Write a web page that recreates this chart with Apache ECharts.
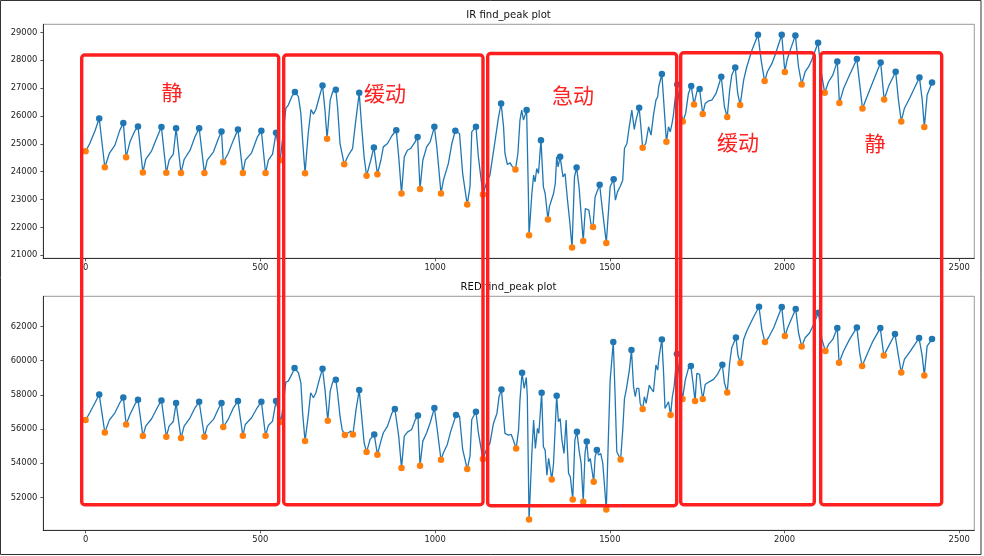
<!DOCTYPE html>
<html>
<head>
<meta charset="utf-8">
<script src="https://cdn.jsdelivr.net/npm/echarts@6/dist/echarts.min.js"></script>
<style>
  html, body { margin: 0; padding: 0; background: #fff; }
  #main { width: 984px; height: 556px; }
</style>
</head>
<body>
<div id="main"></div>
<script>
// tick labels
var xTicks = [0, 500, 1000, 1500, 2000, 2500];
var irTicks = [21000, 22000, 23000, 24000, 25000, 26000, 27000, 28000, 29000];
var redTicks = [52000, 54000, 56000, 58000, 60000, 62000];

// IR 通道：峰值 / 谷值 / 其余采样点 [样本序号, 数值]
var irPeaks = [[39,25910],[108,25750],[150,25620],[217,25600],[259,25560],[325,25560],[389,25440],[436,25510],[503,25470],[545,25400],
  [599,26856],[678,27096],[716,26940],[783,26830],[825,24870],[889,25490],[950,25240],[998,25610],[1058,25470],[1117,25610],
  [1189,26449],[1262,26210],[1303,25132],[1358,24533],[1405,24150],[1471,23527],[1511,23731],[1584,26293],[1649,27503],[1693,27132],
  [1733,27072],[1757,26964],[1819,27407],[1859,27743],[1924,28916],[1992,28916],[2031,28892],[2096,28629],[2151,27958],[2207,28042],
  [2275,27922],[2318,27587],[2386,27383],[2422,27204]];
var irValleys = [[0,24730],[55,24160],[116,24520],[164,23970],[231,23960],[273,23950],[340,23950],[394,24340],[450,23950],[515,23950],[557,24420],
  [628,23946],[691,25180],[740,24270],[804,23850],[835,23910],[904,23220],[957,23380],[1017,23220],[1092,22820],[1137,23180],
  [1230,24078],[1269,21719],[1323,22281],[1392,21275],[1424,21515],[1452,22018],[1490,21443],[1594,24856],[1662,25072],[1709,25802],
  [1741,26413],[1766,26066],[1836,25958],[1873,26389],[1943,27252],[2001,27575],[2049,27132],[2115,26832],[2157,26461],[2223,26269],
  [2285,26593],[2334,25802],[2400,25599]];
var irTrace = [[12,25010],[27,25467],[68,24653],[84,24952],[98,25491],[127,25072],[141,25467],[172,24437],[189,24748],[205,25252],
  [239,24413],[251,24629],[282,24437],[299,24772],[313,25252],[348,24413],[366,24713],[380,25192],[408,24653],[423,25132],
  [457,24413],[475,24677],[491,25228],[523,24413],[535,24629],
  [573,26270],[580,26390],[590,26690],[609,26690],[616,26090],[621,25130],[637,25370],[645,26230],[652,26065],[659,26230],
  [669,26690],[685,26210],[700,26570],[707,26870],[721,26330],[728,25010],[752,24590],[764,24830],[771,25610],[790,25610],
  [797,24530],[816,24410],[845,24410],[852,24890],[864,25010],[876,25280],[896,24530],[912,24530],[921,24770],[930,24830],
  [943,25070],[965,24410],[976,24890],[986,25070],[1005,24890],[1024,23700],[1038,24290],[1048,25010],[1070,25370],[1079,23930],
  [1100,23460],[1105,25430],[1110,25490],[1124,24530],
  [1148,23635],[1157,23874],[1172,25132],[1181,25910],[1196,25611],[1200,24653],[1207,24257],[1215,24317],[1220,24198],[1237,24653],
  [1243,25850],[1248,26210],[1253,25850],[1267,23216],[1277,23216],[1282,23874],[1286,23635],[1291,24114],[1296,23934],[1310,23455],
  [1315,23216],[1327,22737],[1332,22797],[1339,23216],[1344,23575],[1348,24533],[1352,24174],[1366,23814],[1372,23934],[1379,22976],
  [1385,22257],[1399,23814],[1412,23455],[1430,22677],[1434,22737],[1440,22617],[1446,22138],[1458,23096],[1479,22617],[1501,23455],
  [1516,22976],[1522,23275],[1530,23479],[1537,23695],[1542,24832],[1549,25012],[1555,25551],[1563,26210],[1570,25515],[1575,25850],
  [1589,25611],[1603,25012],[1611,25611],[1618,25311],[1625,26030],[1632,26569],[1637,26689],[1640,27048],[1656,26210],[1668,25611],
  [1673,25431],[1679,25790],[1682,26030],[1687,26629],[1700,26329],[1717,26090],[1725,26808],[1749,26868],[1762,26449],[1773,26449],
  [1783,26545],[1792,26569],[1804,26808],[1828,26329],[1843,26928],[1849,27467],[1866,26808],[1883,27287],[1892,27767],[1907,28365],
  [1933,28006],[1951,27587],[1964,27886],[1973,28186],[2007,28006],[2018,28425],[2040,27766],[2059,27587],[2069,27767],[2078,28006],
  [2104,27647],[2126,27228],[2138,27467],[2169,26988],[2186,27467],[2217,26928],[2236,26689],[2253,27228],[2298,27072],[2326,26569],
  [2343,26269],[2360,26689],[2394,26569],[2408,26749]];

// RED 通道
var redPeaks = [[39,58023],[108,57848],[150,57711],[217,57672],[259,57517],[325,57595],[389,57517],[436,57634],[503,57595],[545,57634],
  [598,59563],[678,59524],[716,58881],[783,58277],[826,55684],[885,57166],[951,56795],[998,57224],[1060,56815],[1117,57010],
  [1190,58316],[1249,59290],[1305,58121],[1348,57945],[1406,55840],[1434,55275],[1463,54768],[1510,61084],[1562,60616],[1649,61240],
  [1692,60382],[1732,59680],[1822,59758],[1861,61357],[1927,63150],[1992,63131],[2032,63014],[2097,62799],[2151,61903],[2207,61942],
  [2274,61903],[2316,61552],[2385,61318],[2422,61260]];
var redValleys = [[0,56522],[55,55801],[116,56269],[164,55587],[231,55548],[273,55470],[340,55548],[394,56113],[450,55606],[515,55606],[559,56405],
  [628,55294],[693,56483],[742,55645],[765,55684],[804,54651],[835,54495],[904,53715],[957,53852],[1017,54203],[1092,53657],[1137,54242],
  [1232,54866],[1269,50713],[1334,53053],[1394,51883],[1424,51747],[1454,52916],[1490,51298],[1531,54222],[1594,57166],[1674,56815],
  [1708,57750],[1744,57634],[1766,57750],[1836,58140],[1874,59856],[1944,61084],[2001,61435],[2049,60830],[2117,60558],[2156,59875],
  [2222,59680],[2284,60304],[2334,59310],[2400,59135]];
var redTrace = [[12,56951],[27,57536],[68,56522],[84,56951],[98,57536],[127,56854],[141,57439],[172,56172],[189,56600],[205,57243],
  [239,56172],[251,56444],[282,56172],[299,56659],[313,57243],[348,56172],[366,56562],[380,57185],[408,56562],[423,57243],
  [457,56269],[475,56659],[491,57243],[523,56211],[535,56464],
  [566,57536],[573,58745],[580,58803],[590,59193],[609,59290],[616,58706],[621,56951],[637,56756],[644,58121],[652,57829],
  [659,58121],[669,58901],[685,58316],[700,58218],[707,58745],[721,58121],[728,56756],[734,55977],[752,55782],[759,55879],
  [774,57146],[790,56756],[797,55197],[814,55392],[845,55294],[852,55782],[864,56172],[876,56912],[896,55587],[912,55587],
  [921,55821],[933,55977],[943,56522],[965,55294],[976,55782],[986,56367],[1005,56172],[1024,54612],[1035,55099],[1045,55879],
  [1070,56756],[1079,54807],[1100,54417],[1105,56561],[1110,56659],[1124,55782],
  [1148,54866],[1157,55158],[1167,56328],[1177,56912],[1183,57887],[1196,56717],[1200,55743],[1210,55645],[1218,55684],[1224,55353],
  [1239,55938],[1243,57692],[1255,58374],[1261,59017],[1264,57887],[1277,54573],[1282,56522],[1287,54866],[1293,56035],[1297,55743],
  [1310,54963],[1315,54768],[1320,53306],[1325,54281],[1339,53988],[1353,56425],[1358,56620],[1363,55353],[1369,54573],[1375,56522],
  [1382,53404],[1387,53209],[1400,55353],[1412,54768],[1418,53988],[1429,54573],[1439,54086],[1444,54281],[1458,54378],[1468,54476],
  [1474,54573],[1480,53988],[1496,55548],[1501,58862],[1515,58082],[1520,54671],[1525,54671],[1537,55938],[1542,57790],[1547,58277],
  [1552,58374],[1556,59446],[1568,58472],[1573,57887],[1577,58374],[1583,58374],[1587,57497],[1599,57887],[1604,57497],[1613,58569],
  [1618,58374],[1625,58179],[1632,59739],[1637,59446],[1641,60226],[1654,59251],[1658,57205],[1663,57107],[1668,57595],[1679,57887],
  [1684,58472],[1699,59057],[1716,58862],[1725,59544],[1738,58706],[1749,59251],[1757,59193],[1761,58413],[1773,58608],[1783,58745],
  [1797,58901],[1808,59193],[1828,58706],[1843,59875],[1849,60752],[1867,60265],[1883,61240],[1892,61727],[1909,62448],[1935,61825],
  [1954,61337],[1969,61922],[2009,61922],[2019,62409],[2040,61630],[2059,61337],[2072,61630],[2083,62117],[2107,61240],[2126,60947],
  [2138,61240],[2169,60558],[2186,61240],[2215,60460],[2236,60363],[2253,61142],[2298,60850],[2326,60265],[2343,60070],[2360,60558],
  [2394,60265],[2408,60850]];

// 标注区域文字
var zoneLabels = ['静', '缓动', '急动', '缓动', '静'];

function signal(peaks, valleys, trace) {
  return peaks.concat(valleys, trace).sort(function(a, b) { return a[0] - b[0]; });
}

var chart = echarts.init(document.getElementById('main'), null, { renderer: 'canvas' });

var font = 'DejaVu Sans';
function plain(v) { return String(v); }
function xAxisOpt(idx) {
  return {
    type: 'value', gridIndex: idx, min: -121, max: 2543,
    splitLine: { show: false },
    axisLine: { show: true, onZero: false, lineStyle: { color: '#333', width: 1 } },
    axisTick: { show: true, length: 3, customValues: xTicks, lineStyle: { color: '#333', width: 0.8 } },
    axisLabel: { customValues: xTicks, formatter: plain, margin: 6, fontFamily: font, fontSize: 8.4, color: '#222' }
  };
}
function yAxisOpt(idx, min, max, ticks) {
  return {
    type: 'value', gridIndex: idx, min: min, max: max,
    splitLine: { show: false },
    axisLine: { show: true, onZero: false, lineStyle: { color: '#333', width: 1 } },
    axisTick: { show: true, length: 3, customValues: ticks, lineStyle: { color: '#333', width: 0.8 } },
    axisLabel: { customValues: ticks, formatter: plain, margin: 6, fontFamily: font, fontSize: 8.4, color: '#222' }
  };
}
function lineSeries(idx, data) {
  return {
    type: 'line', xAxisIndex: idx, yAxisIndex: idx, data: data,
    showSymbol: false, silent: true,
    lineStyle: { color: '#1f77b4', width: 1.3 }, z: 2
  };
}
function dotSeries(idx, data, color, z) {
  return {
    type: 'scatter', xAxisIndex: idx, yAxisIndex: idx, data: data,
    symbolSize: 6.5, itemStyle: { color: color, opacity: 1 }, z: z
  };
}

// 红框（手绘标注）
var boxes = [
  [81.7, 55, 197, 449.7],
  [283.7, 55, 199.3, 449.7],
  [487.7, 53.5, 189, 452.2],
  [680.7, 52.7, 133.6, 452],
  [820.7, 52.7, 121, 452]
];
var labelPos = [[172, 92], [385, 93], [573, 95], [738, 142], [875, 143]];

var graphics = [
  { type: 'rect', shape: { x: 0.5, y: 0.5, width: 980.5, height: 554 }, style: { fill: null, stroke: '#333', lineWidth: 1 }, z: 100 },
  { type: 'text', x: 508.5, y: 15, style: { text: 'IR find_peak plot', fontFamily: font, fontSize: 10.1, fill: '#111', align: 'center', verticalAlign: 'middle' }, z: 100 },
  { type: 'text', x: 508.5, y: 287, style: { text: 'RED find_peak plot', fontFamily: font, fontSize: 10.1, fill: '#111', align: 'center', verticalAlign: 'middle' }, z: 100 }
];
boxes.forEach(function(b) {
  graphics.push({ type: 'rect', shape: { x: b[0], y: b[1], width: b[2], height: b[3], r: 3 },
    style: { fill: null, stroke: '#ff1f1f', lineWidth: 3.4 }, z: 110 });
});
zoneLabels.forEach(function(t, i) {
  graphics.push({ type: 'text', x: labelPos[i][0], y: labelPos[i][1],
    style: { text: t, fontFamily: 'Noto Sans CJK SC', fontSize: 21, fill: '#ff2020', align: 'center', verticalAlign: 'middle' }, z: 110 });
});

var option = {
  animation: false,
  backgroundColor: '#fff',
  grid: [
    { left: 43.3, top: 24.3, width: 931, height: 234, show: true, borderColor: '#999', borderWidth: 1, backgroundColor: 'transparent' },
    { left: 43.3, top: 296.3, width: 931, height: 234, show: true, borderColor: '#999', borderWidth: 1, backgroundColor: 'transparent' }
  ],
  xAxis: [xAxisOpt(0), xAxisOpt(1)],
  yAxis: [yAxisOpt(0, 20890, 29290, irTicks), yAxisOpt(1, 50080, 63760, redTicks)],
  series: [
    lineSeries(0, signal(irPeaks, irValleys, irTrace)),
    dotSeries(0, irPeaks, '#1f77b4', 3),
    dotSeries(0, irValleys, '#ff7f0e', 4),
    lineSeries(1, signal(redPeaks, redValleys, redTrace)),
    dotSeries(1, redPeaks, '#1f77b4', 3),
    dotSeries(1, redValleys, '#ff7f0e', 4)
  ],
  graphic: graphics
};

chart.setOption(option);
</script>
</body>
</html>
